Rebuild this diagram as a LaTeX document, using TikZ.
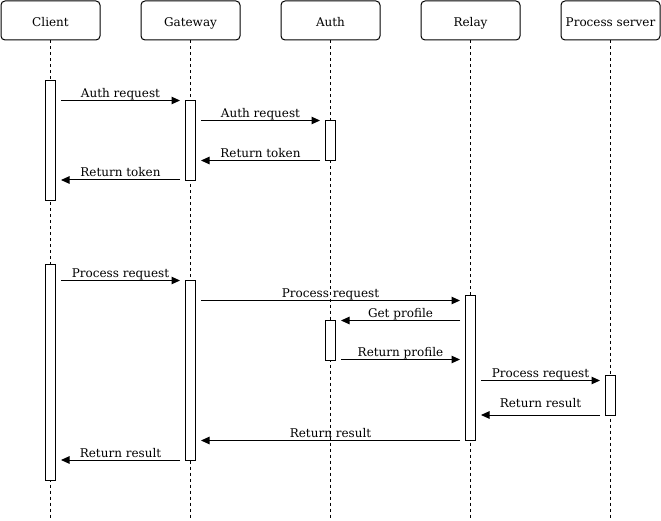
\documentclass[tikz,border=0pt]{standalone}
\usepackage{fontspec}
\setmainfont{DejaVu Serif}
\usetikzlibrary{arrows.meta}
\tikzset{
  head/.style={draw, line width=1pt, rounded corners=4pt, minimum width=99pt, minimum height=39pt, inner sep=0pt, text height=12.5pt, text depth=0pt, font=\fontsize{12pt}{14pt}\selectfont},
  life/.style={line width=1pt, dash pattern=on 3pt off 3pt},
  act/.style={draw, fill=white, line width=1pt, minimum width=10pt, inner sep=0pt},
  msg/.style={line width=1pt, -{Triangle[length=8.5pt,width=7.5pt]}, shorten >=5pt, shorten <=5pt},
  lbl/.style={midway, anchor=base, yshift=3pt, inner sep=0pt, font=\fontsize{12pt}{14pt}\selectfont}
}
\begin{document}
\begin{tikzpicture}[x=1pt,y=-1pt]
\useasboundingbox (0,0) rectangle (661,521);
% headers
\node[head] (client) at (50.5,20.5) {Client};
\node[head] (gateway) at (190.5,20.5) {Gateway};
\node[head] (auth) at (330.5,20.5) {Auth};
\node[head] (relay) at (470.5,20.5) {Relay};
\node[head] (proc) at (610.5,20.5) {Process server};
% lifeline ends
\coordinate (clientend) at (50.5,518);
\coordinate (gatewayend) at (190.5,518);
\coordinate (authend) at (330.5,518);
\coordinate (relayend) at (470.5,518);
\coordinate (procend) at (610.5,518);
\draw[life] (client.south) -- (clientend);
\draw[life] (gateway.south) -- (gatewayend);
\draw[life] (auth.south) -- (authend);
\draw[life] (relay.south) -- (relayend);
\draw[life] (proc.south) -- (procend);
% activations
\node[act, minimum height=120pt] (c1) at (50.5,140.5) {};
\node[act, minimum height=80pt] (g1) at (190.5,140.5) {};
\node[act, minimum height=40pt] (a1) at (330.5,140.5) {};
\node[act, minimum height=215pt] (c2) at (50.5,372.5) {};
\node[act, minimum height=180pt] (g2) at (190.5,370.5) {};
\node[act, minimum height=145pt] (r1) at (470.5,367.5) {};
\node[act, minimum height=40pt] (a2) at (330.5,340.5) {};
\node[act, minimum height=40pt] (p1) at (610.5,395.5) {};
% messages
\draw[msg] (c1.east |- 0,100.5) -- (g1.west |- 0,100.5) node[lbl] {Auth request};
\draw[msg] (g1.east |- 0,120.5) -- (a1.west |- 0,120.5) node[lbl] {Auth request};
\draw[msg] (a1.west |- 0,160.5) -- (g1.east |- 0,160.5) node[lbl] {Return token};
\draw[msg] (g1.west |- 0,180) -- (c1.east |- 0,180) node[lbl] {Return token};
\draw[msg] (c2.east |- 0,280.5) -- (g2.west |- 0,280.5) node[lbl] {Process request};
\draw[msg] (g2.east |- 0,300.5) -- (r1.west |- 0,300.5) node[lbl] {Process request};
\draw[msg] (r1.west |- 0,320.5) -- (a2.east |- 0,320.5) node[lbl] {Get profile};
\draw[msg] (a2.east |- 0,359.5) -- (r1.west |- 0,359.5) node[lbl] {Return profile};
\draw[msg] (r1.east |- 0,380.5) -- (p1.west |- 0,380.5) node[lbl] {Process request};
\draw[msg] (p1.west |- 0,415) -- (r1.east |- 0,415) node[lbl, yshift=4.5pt] {Return result};
\draw[msg] (r1.west |- 0,440.5) -- (g2.east |- 0,440.5) node[lbl] {Return result};
\draw[msg] (g2.west |- 0,460) -- (c2.east |- 0,460) node[lbl] {Return result};
\end{tikzpicture}
\end{document}
